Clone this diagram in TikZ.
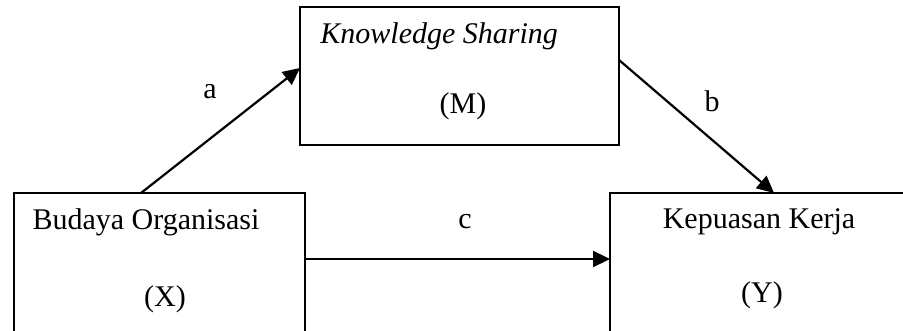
\documentclass[tikz,border=0pt]{standalone}
\usepackage{fontspec}
\setmainfont{Liberation Serif}
\usetikzlibrary{arrows.meta,calc}
\begin{document}
\begin{tikzpicture}[x=0.5pt,y=-0.5pt,
  box/.style={draw,line width=1.25pt,rectangle,inner sep=0pt,outer sep=0pt},
  txt/.style={inner sep=0pt,font=\fontsize{15}{18}\selectfont},
  arr/.style={line width=1.1pt,-{Triangle[length=8.5pt,width=8pt]}}]
\useasboundingbox (0,0) rectangle (903,331);
\clip (0,0) rectangle (903,331);
\node[box,minimum width=159.5pt,minimum height=69pt] (M) at (459.5,76) {};
\node[box,minimum width=145.5pt,minimum height=78.5pt] (X) at (159.5,271.5) {};
\node[box,minimum width=170pt,minimum height=78.5pt] (Y) at (780,271.5) {};
\node[txt,anchor=west] (mt) at (320,36) {\itshape Knowledge Sharing};
\node[txt] (ml) at (463,106) {(M)};
\node[txt] (xt) at (146,222) {Budaya Organisasi};
\node[txt] (xl) at (165,299) {(X)};
\node[txt] (yt) at (759,222) {Kepuasan Kerja};
\node[txt] (yl) at (762,295) {(Y)};
\node[txt] (la) at (210,92) {a};
\node[txt] (lb) at (712,101) {b};
\node[txt] (lc) at (465,222) {c};
\draw[arr] ($(X.north west)+(127,0)$) -- ($(M.north west)+(0,61)$);
\draw[arr] ($(M.north east)+(0,53)$) -- ($(Y.north west)+(164,0)$);
\draw[arr] ($(X.north east)+(0,66)$) -- ($(Y.north west)+(0,66)$);
\end{tikzpicture}
\end{document}
